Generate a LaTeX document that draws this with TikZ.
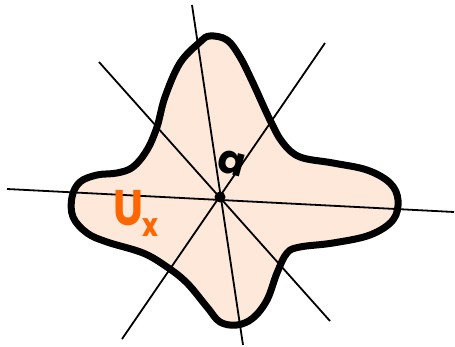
\documentclass[tikz,border=0pt]{standalone}
\usepackage{fontspec}
\setmainfont{Poppins}
\begin{document}
\begin{tikzpicture}[x=1pt,y=-1pt,
  axis/.style={line width=1.8pt,black},
  blob/.style={line width=7pt,black,fill=peach,line join=round}]
\definecolor{peach}{HTML}{FDE8DA}
\definecolor{orng}{HTML}{FF6600}
\useasboundingbox (0,0) rectangle (455,347);
\coordinate (O) at (220,197);
\draw[blob] plot[smooth cycle,tension=0.6] coordinates {
 (210,36) (200,42) (180,63) (165,97) (157,127) (147,150) (133,167) (117,173)
 (97,175) (80,182) (72,197) (73,217) (87,233) (107,242) (143,253) (167,267)
 (187,283) (207,307) (220,322) (237,325) (253,318) (267,300) (277,273) (287,253)
 (300,247) (333,243) (370,235) (393,220) (398,200) (390,183) (367,170) (333,163)
 (300,157) (283,143) (270,120) (253,83) (240,57) (227,40)};
\coordinate (h1) at (7,189); \coordinate (h2) at (454,212);
\coordinate (v1) at (192,5); \coordinate (v2) at (243,345);
\coordinate (d1) at (99,62); \coordinate (d2) at (330,321);
\coordinate (e1) at (325,43); \coordinate (e2) at (122,339);
\draw[axis] (h1) -- (h2);
\draw[axis] (v1) -- (v2);
\draw[axis] (d1) -- (d2);
\draw[axis] (e1) -- (e2);
\fill[black] (O) circle (5.5);
\node[font=\fontsize{40}{40}\selectfont\bfseries,rotate=-15] (a) at (232,163) {a};
\node[text=orng,font=\fontsize{50}{50}\selectfont\bfseries,xscale=0.85,anchor=center] (U) at (136,213) {U\raisebox{-11pt}{\fontsize{32}{32}\selectfont x}};
\end{tikzpicture}
\end{document}
